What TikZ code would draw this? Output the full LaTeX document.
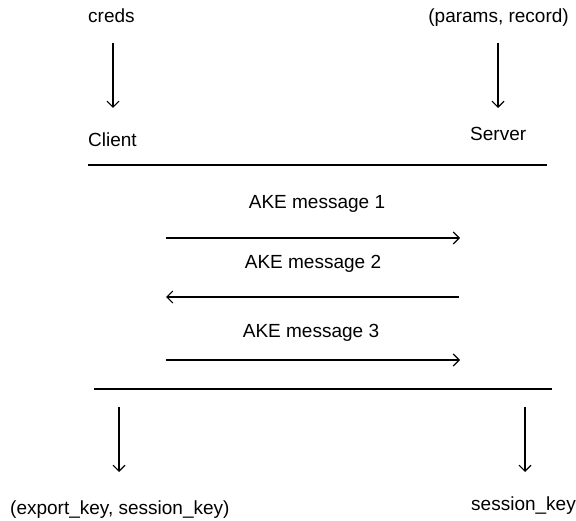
\documentclass[tikz,border=0pt]{standalone}
\usepackage{fontspec}
\setmainfont{Liberation Sans}
\usetikzlibrary{arrows.meta}
\begin{document}
\begin{tikzpicture}[x=1pt,y=-1pt,
  lbl/.style={inner sep=0pt, font=\fontsize{19}{23}\selectfont},
  flow/.style={-{Straight Barb[length=6pt,width=12pt]}, line width=1.1pt},
  rule/.style={line width=2.2pt}]
\useasboundingbox (0,0) rectangle (576,521);

% parties and their inputs
\node[lbl,anchor=base west] (creds)  at (88,23)  {creds};
\node[lbl,anchor=base east] (params) at (569,23) {(params, record)};
\node[lbl,anchor=base west] (client) at (88,147) {Client};
\node[lbl,anchor=base west] (server) at (470,141) {Server};

\coordinate (credsOut)  at (113,43);
\coordinate (clientIn)  at (113,108);
\coordinate (paramsOut) at (498,43);
\coordinate (serverIn)  at (498,108);
\draw[flow] (credsOut) -- (clientIn);
\draw[flow] (paramsOut) -- (serverIn);

% protocol frame
\coordinate (topL) at (88,165);
\coordinate (topR) at (547,165);
\draw[rule] (topL) -- (topR);

% AKE messages
\node[lbl,anchor=base] (msg1) at (317,209) {AKE message 1};
\node[lbl,anchor=base] (msg2) at (313,269) {AKE message 2};
\node[lbl,anchor=base] (msg3) at (311,338) {AKE message 3};

\coordinate (c1) at (166,238); \coordinate (s1) at (460,238);
\coordinate (c2) at (166,297); \coordinate (s2) at (459,297);
\coordinate (c3) at (166,360); \coordinate (s3) at (460,360);
\draw[flow] (c1) -- (s1);
\draw[flow] (s2) -- (c2);
\draw[flow] (c3) -- (s3);

\coordinate (botL) at (94,389);
\coordinate (botR) at (552,389);
\draw[rule] (botL) -- (botR);

% outputs
\node[lbl,anchor=base west] (exportKey)  at (10,514)  {(export\_key, session\_key)};
\node[lbl,anchor=base east] (sessionKey) at (576,510) {session\_key};

\coordinate (clientOut) at (119,407);
\coordinate (exportIn)  at (119,472);
\coordinate (serverOut) at (525,407);
\coordinate (sessionIn) at (525,472);
\draw[flow] (clientOut) -- (exportIn);
\draw[flow] (serverOut) -- (sessionIn);
\end{tikzpicture}
\end{document}
